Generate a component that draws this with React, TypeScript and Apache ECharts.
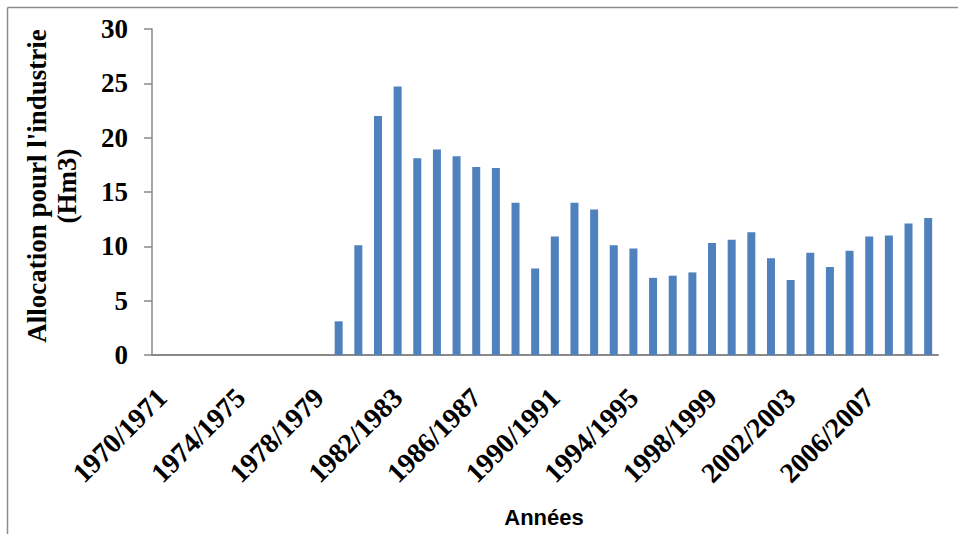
import React, { useEffect, useRef } from "react";
import * as echarts from "echarts";

// Campagnes agricoles 1970/1971 .. 2009/2010
const startYears: number[] = [
  1970, 1971, 1972, 1973, 1974, 1975, 1976, 1977, 1978, 1979,
  1980, 1981, 1982, 1983, 1984, 1985, 1986, 1987, 1988, 1989,
  1990, 1991, 1992, 1993, 1994, 1995, 1996, 1997, 1998, 1999,
  2000, 2001, 2002, 2003, 2004, 2005, 2006, 2007, 2008, 2009,
];
const categories: string[] = startYears.map((y) => `${y}/${y + 1}`);

// Allocation pour l'industrie (Hm3)
const allocation: number[] = [
  0, 0, 0, 0, 0, 0, 0, 0, 0,
  3.1, 10.1, 22.0, 24.7, 18.1, 18.9, 18.3, 17.3, 17.2, 14.0,
  7.95, 10.9, 14.0, 13.4, 10.1, 9.8, 7.1, 7.3, 7.6, 10.3,
  10.6, 11.3, 8.9, 6.9, 9.4, 8.1, 9.6, 10.9, 11.0, 12.1, 12.6,
];

const yTicks = { min: 0, max: 30, interval: 5 };

const AXIS_GREY = "#898989";
const SERIF = "'Liberation Serif', 'Times New Roman', serif";

export default function App() {
  const ref = useRef<HTMLDivElement>(null);

  useEffect(() => {
    if (!ref.current) return;
    const chart = echarts.init(ref.current, null, { renderer: "svg" });
    chart.setOption({
      animation: false,
      backgroundColor: "#ffffff",
      grid: { left: 152, top: 29, right: 20, bottom: 179, containLabel: false },
      xAxis: {
        type: "category",
        data: categories,
        boundaryGap: true,
        axisLine: { show: true, lineStyle: { color: AXIS_GREY, width: 2 } },
        axisTick: { show: false },
        splitLine: { show: false },
        axisLabel: {
          interval: 3,
          rotate: 45,
          margin: 38,
          color: "#000",
          fontFamily: SERIF,
          fontWeight: "bold",
          fontSize: 28,
        },
      },
      yAxis: {
        type: "value",
        min: yTicks.min,
        max: yTicks.max,
        interval: yTicks.interval,
        axisLine: { show: true, lineStyle: { color: AXIS_GREY, width: 1.5 } },
        axisTick: { show: true, length: 8, lineStyle: { color: AXIS_GREY, width: 1.5 } },
        splitLine: { show: false },
        axisLabel: {
          margin: 24,
          color: "#000",
          fontFamily: SERIF,
          fontWeight: "bold",
          fontSize: 27,
        },
      },
      series: [
        {
          type: "bar",
          data: allocation,
          barWidth: 8,
          itemStyle: { color: "#4F81BD" },
        },
      ],
      graphic: [
        {
          type: "line",
          shape: { x1: 7.5, y1: 7.5, x2: 958, y2: 7.5 },
          style: { stroke: "#8c8c8c", lineWidth: 1.5 },
        },
        {
          type: "line",
          shape: { x1: 7.5, y1: 7.5, x2: 7.5, y2: 534 },
          style: { stroke: "#8c8c8c", lineWidth: 1.5 },
        },
        {
          type: "text",
          x: 52,
          y: 186,
          rotation: Math.PI / 2,
          style: {
            text: "Allocation pourl l'industrie\n(Hm3)",
            align: "center",
            verticalAlign: "middle",
            lineHeight: 30,
            fill: "#000",
            font: `bold 27px ${SERIF}`,
          },
        },
        {
          type: "text",
          x: 544,
          y: 517,
          style: {
            text: "Années",
            align: "center",
            verticalAlign: "middle",
            fill: "#000",
            font: "bold 22px 'Liberation Sans', Arial, sans-serif",
          },
        },
      ],
    });
    return () => chart.dispose();
  }, []);

  return (
    <div
      ref={ref}
      style={{ position: "absolute", left: 0, top: 0, width: 958, height: 534 }}
    />
  );
}
